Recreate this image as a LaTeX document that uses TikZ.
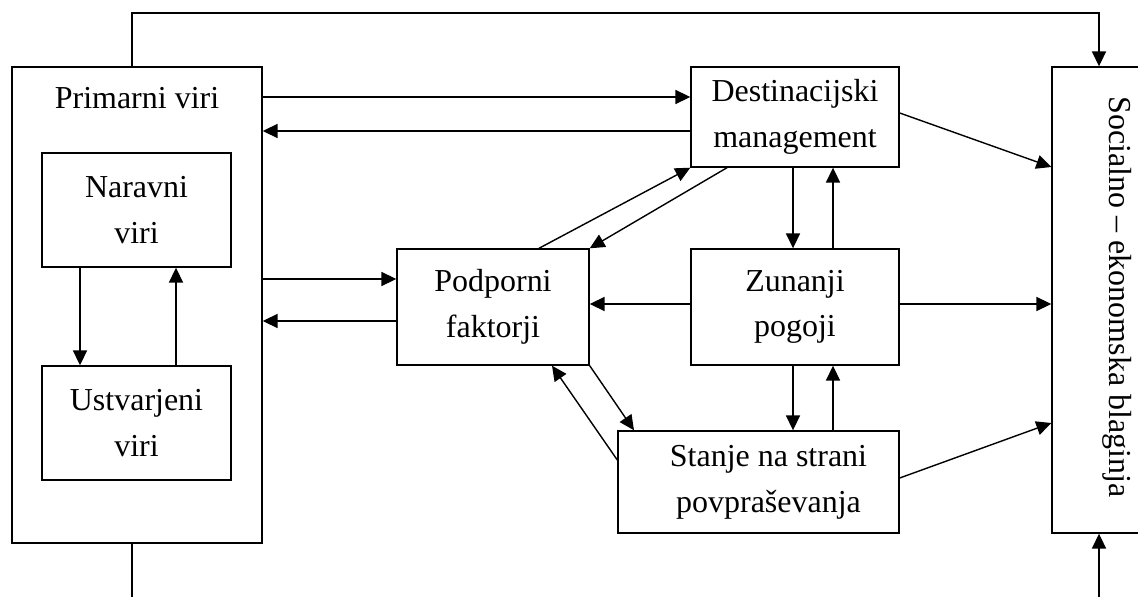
\documentclass[tikz,border=0pt]{standalone}
\usepackage{fontspec}
\setmainfont{Liberation Serif}
\usetikzlibrary{arrows.meta}
\tikzset{
  blok/.style={draw,line width=0.8pt,rectangle,align=center,inner sep=0pt,font=\fontsize{18.2}{26}\selectfont},
  vel/.style 2 args={minimum width=#1*0.02cm,minimum height=#2*0.02cm},
  napis/.style={inner sep=0pt,font=\fontsize{18.2}{26}\selectfont},
  pu/.style={-{Triangle[length=8.5pt,width=8pt]},line width=0.8pt},
  crta/.style={line width=0.8pt}
}
\begin{document}
\begin{tikzpicture}[x=0.02cm,y=-0.02cm]
\useasboundingbox (0,0) rectangle (1138,597);
\pgfmathsetmacro{\kdol}{793}
\pgfmathsetmacro{\kgor}{833}
% okvirji
\node[blok,vel={250}{476}](prim) at (137,305){};
\node[napis](primtxt) at (137,98){Primarni viri};
\node[blok,vel={189}{114}](nar) at (136.5,210){Naravni\\viri};
\node[blok,vel={189}{114}](ust) at (136.5,423){Ustvarjeni\\viri};
\node[blok,vel={208}{100}](dest) at (795,117){Destinacijski\\management};
\node[blok,vel={192}{116}](pod) at (493,307){Podporni\\faktorji};
\node[blok,vel={208}{116}](zun) at (795,307){Zunanji\\pogoji};
\node[blok,vel={281}{102}](stanje) at (758.5,482){\hspace*{0.4cm}Stanje na strani\\\hspace*{0.4cm}povpraševanja};
\node[blok,vel={130}{466}](soc) at (1117,300){};
\node[napis,rotate=-90](soctxt) at (1117,297){Socialno -- ekonomska blaginja};
% zanka zgoraj in spodaj
\coordinate(zg1) at (132,13);
\coordinate(zg2) at (1099,13);
\coordinate(sp1) at (132,600);
\coordinate(sp2) at (1099,600);
\draw[pu](prim.north -| zg1)--(zg1)--(zg2)--(soc.north -| zg2);
\draw[crta](prim.south -| sp1)--(sp1);
\draw[pu](sp2)--(soc.south -| sp2);
% vodoravne
\draw[pu](prim.east |- 0,97)--(dest.west |- 0,97);
\draw[pu](dest.west |- 0,131)--(prim.east |- 0,131);
\draw[pu](prim.east |- 0,279)--(pod.west |- 0,279);
\draw[pu](pod.west |- 0,321)--(prim.east |- 0,321);
\draw[pu](zun.west |- 0,304)--(pod.east |- 0,304);
\draw[pu](zun.east |- 0,304)--(soc.west |- 0,304);
% navpicne
\draw[pu](nar.south -| 80,0)--(ust.north -| 80,0);
\draw[pu](ust.north -| 176,0)--(nar.south -| 176,0);
\foreach \kz/\kn in {dest/zun,zun/stanje}{
  \draw[pu](\kz.south -| \kdol,0)--(\kn.north -| \kdol,0);
  \draw[pu](\kn.north -| \kgor,0)--(\kz.south -| \kgor,0);
}
% posevne
\draw[pu](pod.north -| 539,0)--(dest.south west);
\draw[pu](dest.south -| 727,0)--(pod.north east);
\draw[pu](pod.south east)--(stanje.north -| 634,0);
\draw[pu](stanje.west |- 0,460)--(pod.south -| 552,0);
\draw[pu](dest.east |- 0,113)--(soc.west |- 0,167);
\draw[pu](stanje.east |- 0,478)--(soc.west |- 0,423);
\end{tikzpicture}
\end{document}
